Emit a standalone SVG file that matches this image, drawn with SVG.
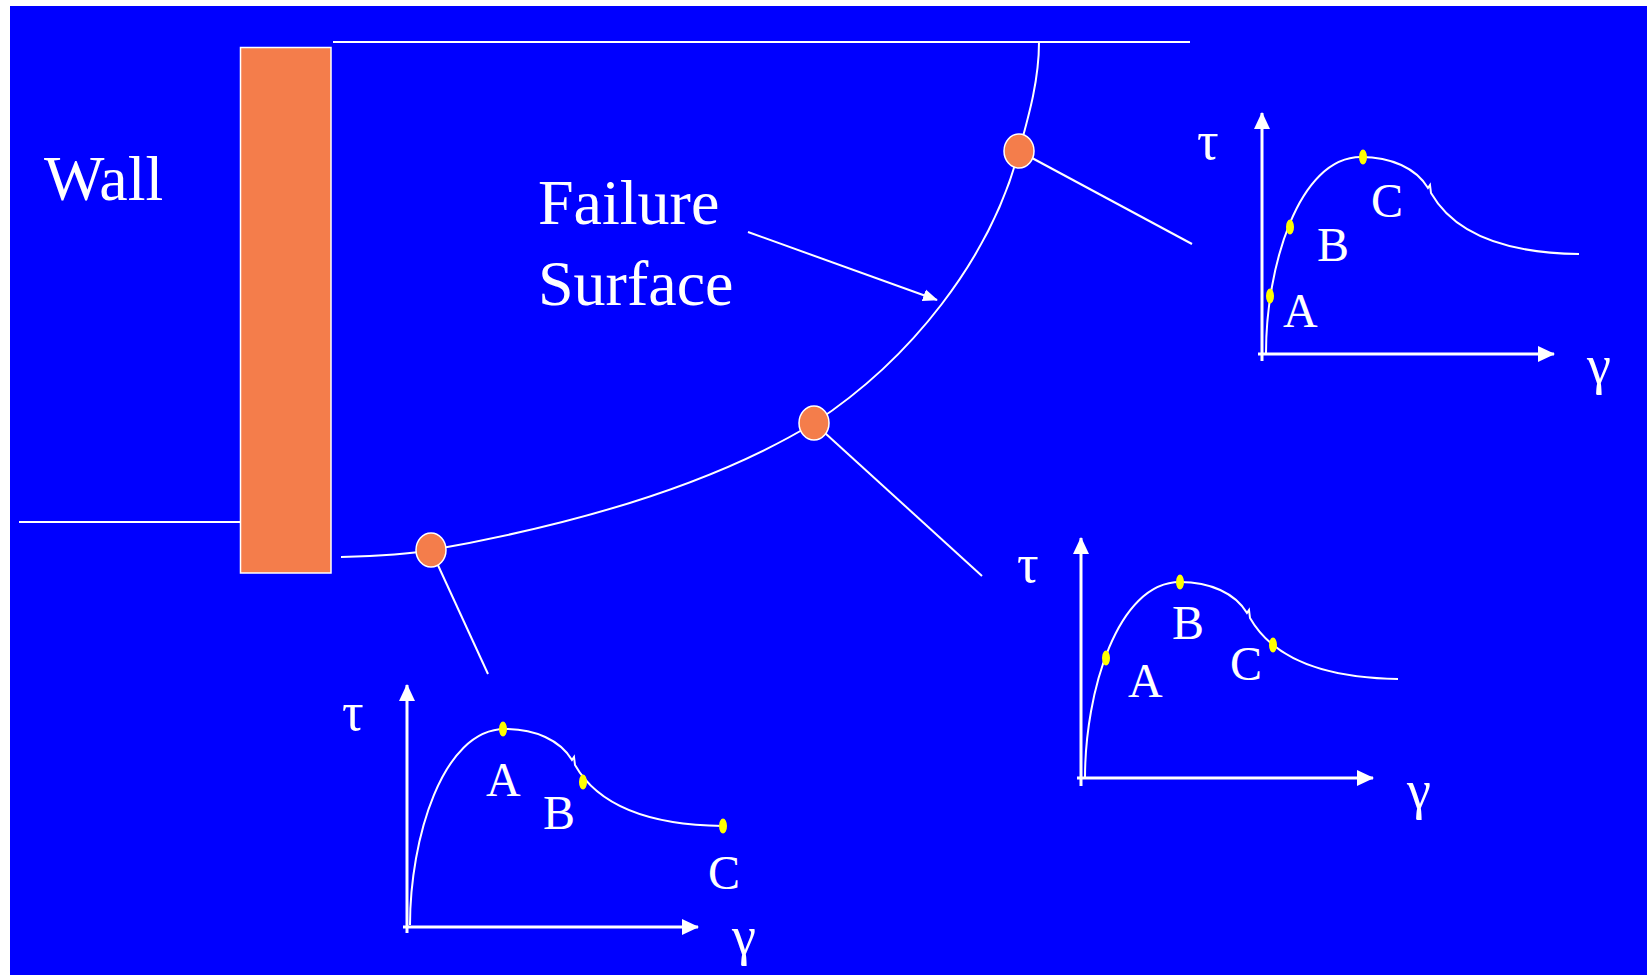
<svg xmlns="http://www.w3.org/2000/svg" width="1647" height="975" viewBox="0 0 1647 975">
<defs>
<style>
.ln{stroke:#fff;stroke-width:2;fill:none}
.ax{stroke:#fff;stroke-width:3;fill:none}
.pt{fill:#F47D4B;stroke:#fff;stroke-width:1.5}
.dot{fill:#FFFF00}
.big{font-family:"Liberation Serif","Times New Roman",serif;font-size:64px;fill:#fff}
.lbl{font-family:"Liberation Serif","Times New Roman",serif;font-size:48px;fill:#fff}
.gk{font-family:"Liberation Serif","Times New Roman",serif;font-size:54px;fill:#fff}
</style>
<marker id="ah" markerUnits="userSpaceOnUse" markerWidth="18" markerHeight="18" viewBox="0 0 18 18" refX="16" refY="9" orient="auto">
<path d="M0,1 L17,9 L0,17 Z" fill="#fff"/>
</marker>
<marker id="ah2" markerUnits="userSpaceOnUse" markerWidth="16" markerHeight="16" viewBox="0 0 16 16" refX="14" refY="8" orient="auto">
<path d="M0,2 L15,8 L0,14 Z" fill="#fff"/>
</marker>
<path id="curve" d="M0,0 C0,-85 32,-196 95,-196 C125,-196 150,-185 162,-165 L164,-168 L165,-160 C185,-125 230,-100 313,-99"/>
</defs>
<rect x="0" y="0" width="1647" height="975" fill="#fff"/>
<rect x="10" y="6" width="1637" height="969" fill="#0000FF"/>

<g id="ground">
<line class="ln" x1="19" y1="522" x2="240" y2="522"/>
<line class="ln" x1="333" y1="42" x2="1190" y2="42"/>
</g>

<g id="wall">
<rect x="240.5" y="47.5" width="90.5" height="525.5" fill="#F47D4B" stroke="#fff" stroke-width="1.5"/>
<text class="big" x="44" y="200">Wall</text>
</g>

<g id="failure-label">
<text class="big" x="538" y="224">Failure</text>
<text class="big" x="538" y="305">Surface</text>
</g>

<g id="connectors">
<path class="ln" d="M341,557 C380,556 410,554 431,550 C590,522 720,480 814,423 C910,360 990,260 1019,151 C1029,115 1039,80 1039,42"/>
<line class="ln" x1="748" y1="232" x2="937" y2="300" stroke-width="3" marker-end="url(#ah2)"/>
<line class="ln" x1="1019" y1="151" x2="1192" y2="244"/>
<line class="ln" x1="814" y1="423" x2="982" y2="576"/>
<line class="ln" x1="431" y1="550" x2="488" y2="674"/>
</g>

<g id="point-top"><ellipse class="pt" cx="1019" cy="151" rx="15" ry="17"/></g>
<g id="point-mid"><ellipse class="pt" cx="814" cy="423" rx="15" ry="17"/></g>
<g id="point-low"><ellipse class="pt" cx="431" cy="550" rx="15" ry="17"/></g>

<g id="chart-top" transform="translate(1266,353)">
<line class="ax" x1="-4" y1="8" x2="-4" y2="-240" marker-end="url(#ah)"/>
<line class="ax" x1="-8" y1="1" x2="288" y2="1" marker-end="url(#ah)"/>
<use href="#curve" class="ln"/>
<ellipse class="dot" cx="4" cy="-57" rx="4" ry="7.5"/>
<ellipse class="dot" cx="24" cy="-126" rx="4" ry="7.5"/>
<ellipse class="dot" cx="97" cy="-196" rx="4" ry="7.5"/>
<text class="gk" x="-69" y="-194">τ</text>
<text class="lbl" x="17" y="-26">A</text>
<text class="lbl" x="51" y="-92">B</text>
<text class="lbl" x="105" y="-136">C</text>
<text class="gk" x="321" y="30">γ</text>
</g>

<g id="chart-mid" transform="translate(1085,778)">
<line class="ax" x1="-4" y1="8" x2="-4" y2="-240" marker-end="url(#ah)"/>
<line class="ax" x1="-8" y1="0" x2="288" y2="0" marker-end="url(#ah)"/>
<use href="#curve" class="ln"/>
<ellipse class="dot" cx="21" cy="-120" rx="4" ry="7.5"/>
<ellipse class="dot" cx="95" cy="-196" rx="4" ry="7.5"/>
<ellipse class="dot" cx="188" cy="-133" rx="4" ry="7.5"/>
<text class="gk" x="-68" y="-196">τ</text>
<text class="lbl" x="43" y="-81">A</text>
<text class="lbl" x="87" y="-139">B</text>
<text class="lbl" x="145" y="-98">C</text>
<text class="gk" x="322" y="30">γ</text>
</g>

<g id="chart-low" transform="translate(410,925)">
<line class="ax" x1="-3" y1="8" x2="-3" y2="-240" marker-end="url(#ah)"/>
<line class="ax" x1="-7" y1="2" x2="288" y2="2" marker-end="url(#ah)"/>
<use href="#curve" class="ln"/>
<ellipse class="dot" cx="93" cy="-196" rx="4" ry="7.5"/>
<ellipse class="dot" cx="173" cy="-143" rx="4" ry="7.5"/>
<ellipse class="dot" cx="313" cy="-99" rx="4" ry="7.5"/>
<text class="gk" x="-68" y="-195">τ</text>
<text class="lbl" x="76" y="-129">A</text>
<text class="lbl" x="133" y="-96">B</text>
<text class="lbl" x="298" y="-36">C</text>
<text class="gk" x="322" y="29">γ</text>
</g>
</svg>
